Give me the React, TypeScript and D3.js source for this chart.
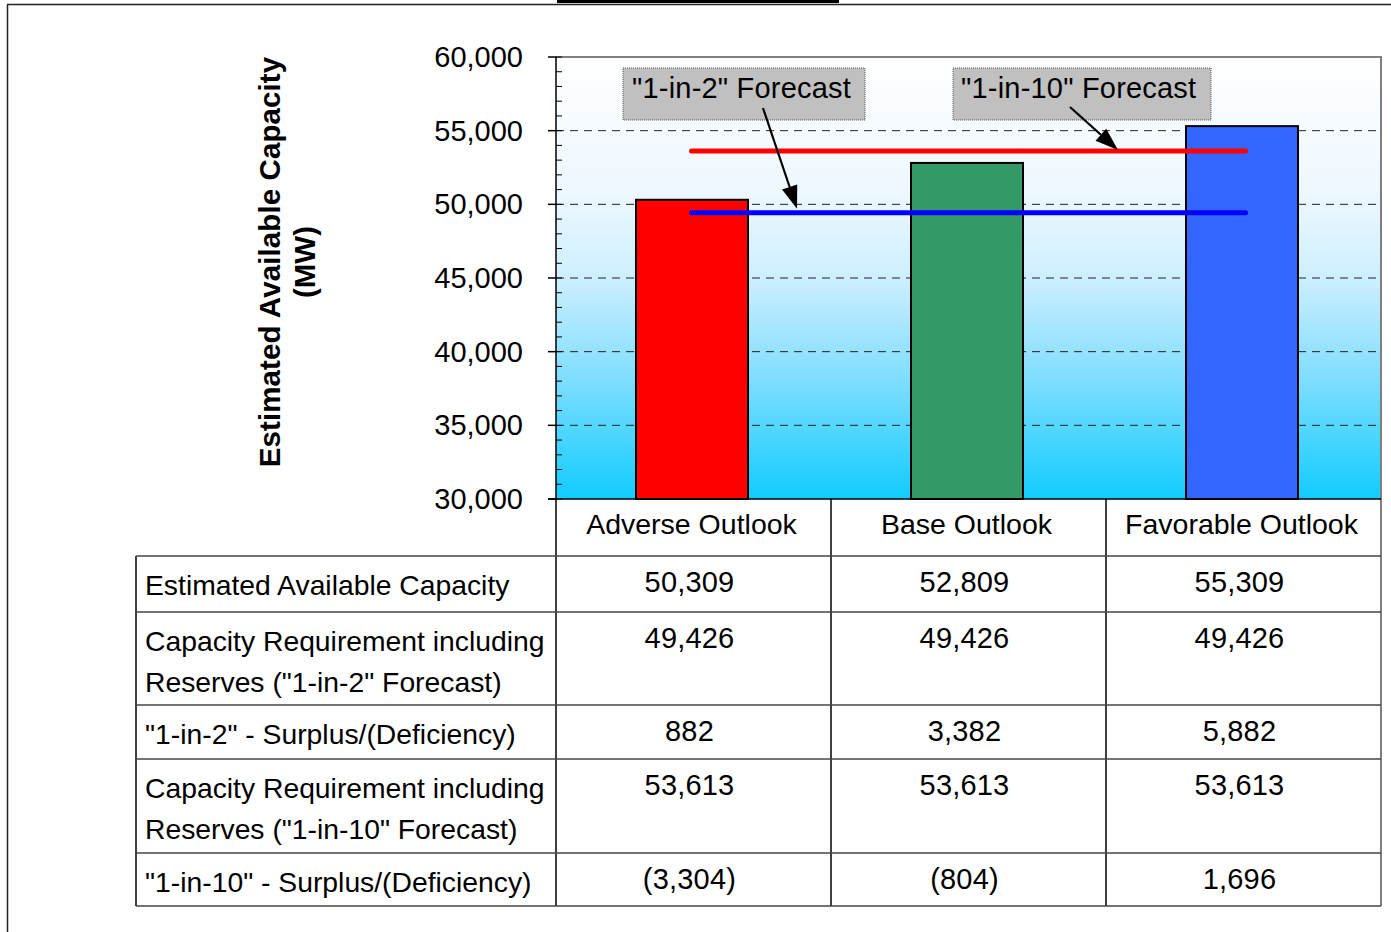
import React from "react";
import * as d3 from "d3";

const categories = ["Adverse Outlook", "Base Outlook", "Favorable Outlook"];
const capacity = [50309, 52809, 55309];
const req1in2 = [49426, 49426, 49426];
const req1in10 = [53613, 53613, 53613];
const surplus1in2 = [882, 3382, 5882];
const surplus1in10 = [-3304, -804, 1696];
const barColors = ["#FF0000", "#339966", "#3366FF"];
const yTicks = [30000, 35000, 40000, 45000, 50000, 55000, 60000];
const rowLabels = [
  ["Estimated Available Capacity"],
  ["Capacity Requirement including", "Reserves (\"1-in-2\" Forecast)"],
  ["\"1-in-2\" - Surplus/(Deficiency)"],
  ["Capacity Requirement including", "Reserves (\"1-in-10\" Forecast)"],
  ["\"1-in-10\" - Surplus/(Deficiency)"],
];
const rowValues = [capacity, req1in2, surplus1in2, req1in10, surplus1in10];

const FONT = "'Liberation Sans', Arial, sans-serif";

const fmt = d3.format(",");
const fmtVal = (v: number) => (v < 0 ? `(${fmt(-v)})` : fmt(v));

export default function App() {
  const W = 1391, H = 932;
  const plot = { left: 556, right: 1381, top: 57, bottom: 499 };
  const y = d3.scaleLinear().domain([30000, 60000]).range([plot.bottom, plot.top]);
  const x = d3.scaleBand<string>().domain(categories).range([plot.left, plot.right]).paddingInner(0).paddingOuter(0);
  const barW = 112;
  const minor = d3.range(30000, 60001, 1000);
  const rowEdges = [556, 612, 705, 759, 853, 906];
  const tableLeft = 136;

  const lineX1 = (x(categories[0]) as number) + x.bandwidth() / 2 - 2;
  const lineX2 = (x(categories[2]) as number) + x.bandwidth() / 2 + 2;

  const arrow = (x1: number, y1: number, x2: number, y2: number, key: string) => {
    const ang = Math.atan2(y2 - y1, x2 - x1);
    const L = 23, hw = 8;
    const bx = x2 - L * Math.cos(ang), by = y2 - L * Math.sin(ang);
    const px = -Math.sin(ang) * hw, py = Math.cos(ang) * hw;
    return (
      <g key={key}>
        <line x1={x1} y1={y1} x2={bx} y2={by} stroke="#000" strokeWidth={2.2} />
        <polygon points={`${x2},${y2} ${bx + px},${by + py} ${bx - px},${by - py}`} fill="#000" />
      </g>
    );
  };

  return (
    <div style={{ position: "absolute", left: 0, top: 0 }}>
      <svg width={W} height={H} style={{ display: "block", fontFamily: FONT }}>
        <defs>
          <linearGradient id="bg" x1="0" y1="0" x2="0" y2="1">
            <stop offset="0" stopColor="#FFFFFF" />
            <stop offset="0.3" stopColor="#EEF8FF" />
            <stop offset="0.5" stopColor="#CDEFFF" />
            <stop offset="0.72" stopColor="#82DEFF" />
            <stop offset="1" stopColor="#12CCFF" />
          </linearGradient>
        </defs>
        <rect x={0} y={0} width={W} height={H} fill="#fff" />
        {/* frame */}
        <line x1={7.5} y1={5} x2={7.5} y2={H} stroke="#222" strokeWidth={1.5} />
        <line x1={7} y1={4.5} x2={W} y2={4.5} stroke="#222" strokeWidth={1.5} />
        <rect x={557} y={0} width={282} height={3} fill="#000" />

        {/* plot background */}
        <rect x={plot.left} y={plot.top} width={plot.right - plot.left} height={plot.bottom - plot.top} fill="url(#bg)" />

        {/* gridlines */}
        {yTicks.filter((t) => t > 30000 && t < 60000).map((t) => (
          <line key={"g" + t} x1={plot.left} x2={plot.right} y1={y(t)} y2={y(t)} stroke="#222" strokeWidth={1} strokeDasharray="8,6" />
        ))}

        {/* bars */}
        {categories.map((c, i) => {
          const cx = (x(c) as number) + x.bandwidth() / 2 - 1.5;
          return (
            <rect key={c} x={cx - barW / 2} y={y(capacity[i])} width={barW} height={y(30000) - y(capacity[i])}
              fill={barColors[i]} stroke="#000" strokeWidth={2} />
          );
        })}

        {/* forecast lines */}
        <line x1={lineX1} x2={lineX2} y1={y(req1in10[0])} y2={y(req1in10[2])} stroke="#FF0000" strokeWidth={5} strokeLinecap="round" />
        <line x1={lineX1} x2={lineX2} y1={y(req1in2[0])} y2={y(req1in2[2])} stroke="#0000FF" strokeWidth={5} strokeLinecap="round" />

        {/* plot border */}
        <line x1={plot.left} x2={plot.right} y1={plot.top} y2={plot.top} stroke="#808080" strokeWidth={2} />
        <line x1={plot.right} x2={plot.right} y1={plot.top - 1} y2={rowEdges[rowEdges.length - 1]} stroke="#808080" strokeWidth={2} />

        {/* y axis */}
        <line x1={plot.left} x2={plot.left} y1={plot.top} y2={rowEdges[rowEdges.length - 1]} stroke="#000" strokeWidth={1.5} />
        {minor.map((t) => (
          <line key={"m" + t} x1={plot.left} x2={plot.left + 6} y1={y(t)} y2={y(t)} stroke="#000" strokeWidth={1} />
        ))}
        {yTicks.map((t) => (
          <g key={"t" + t}>
            <line x1={plot.left - 8} x2={plot.left} y1={y(t)} y2={y(t)} stroke="#000" strokeWidth={1.5} />
            <text x={523} y={y(t)} dy="0.35em" textAnchor="end" fontSize={29} fill="#000">{fmt(t)}</text>
          </g>
        ))}
        <line x1={plot.left - 8} x2={plot.right} y1={plot.bottom} y2={plot.bottom} stroke="#000" strokeWidth={1.5} />

        {/* y axis title */}
        <text transform="translate(280,262) rotate(-90)" textAnchor="middle" fontSize={29.5} fontWeight="bold" letterSpacing={0.1} fill="#000">Estimated Available Capacity</text>
        <text transform="translate(315,262) rotate(-90)" textAnchor="middle" fontSize={29.5} fontWeight="bold" fill="#000">(MW)</text>

        {/* annotations */}
        <rect x={623} y={68} width={242} height={52} fill="#C0C0C0" stroke="#555" strokeWidth={1} strokeDasharray="1,1" />
        <text x={632} y={98} fontSize={29} letterSpacing={0.2} fill="#000">"1-in-2" Forecast</text>
        <rect x={953} y={68} width={258} height={52} fill="#C0C0C0" stroke="#555" strokeWidth={1} strokeDasharray="1,1" />
        <text x={961} y={98} fontSize={29} letterSpacing={0.2} fill="#000">"1-in-10" Forecast</text>
        {arrow(763, 108, 797, y(req1in2[1]) - 4, "a1")}
        {arrow(1070, 107, 1118, y(req1in10[2]) - 1, "a2")}

        {/* category row */}
        {categories.map((c, i) => (
          <g key={"cat" + c}>
            {i > 0 && (
              <line x1={x(c) as number} x2={x(c) as number} y1={plot.bottom} y2={rowEdges[rowEdges.length - 1]} stroke="#000" strokeWidth={1.5} />
            )}
            <text x={(x(c) as number) + x.bandwidth() / 2 - 2} y={534} textAnchor="middle" fontSize={28.5} fill="#000">{c}</text>
          </g>
        ))}

        {/* table */}
        <line x1={tableLeft} x2={tableLeft} y1={rowEdges[0]} y2={rowEdges[rowEdges.length - 1]} stroke="#000" strokeWidth={1.5} />
        {rowEdges.map((ry, i) => (
          <line key={"r" + i} x1={tableLeft} x2={plot.right} y1={ry} y2={ry} stroke="#444" strokeWidth={1.5} />
        ))}
        {rowLabels.map((lines, r) => (
          <g key={"row" + r}>
            {lines.map((l, k) => (
              <text key={k} x={145} y={rowEdges[r] + 39 + k * 41} fontSize={28.3} fill="#000">{l}</text>
            ))}
            {rowValues[r].map((v, j) => (
              <text key={"v" + j} x={(x(categories[j]) as number) + x.bandwidth() / 2 - 4} y={rowEdges[r] + 36}
                textAnchor="middle" fontSize={29} letterSpacing={0.2} fill="#000">{fmtVal(v)}</text>
            ))}
          </g>
        ))}
      </svg>
    </div>
  );
}
